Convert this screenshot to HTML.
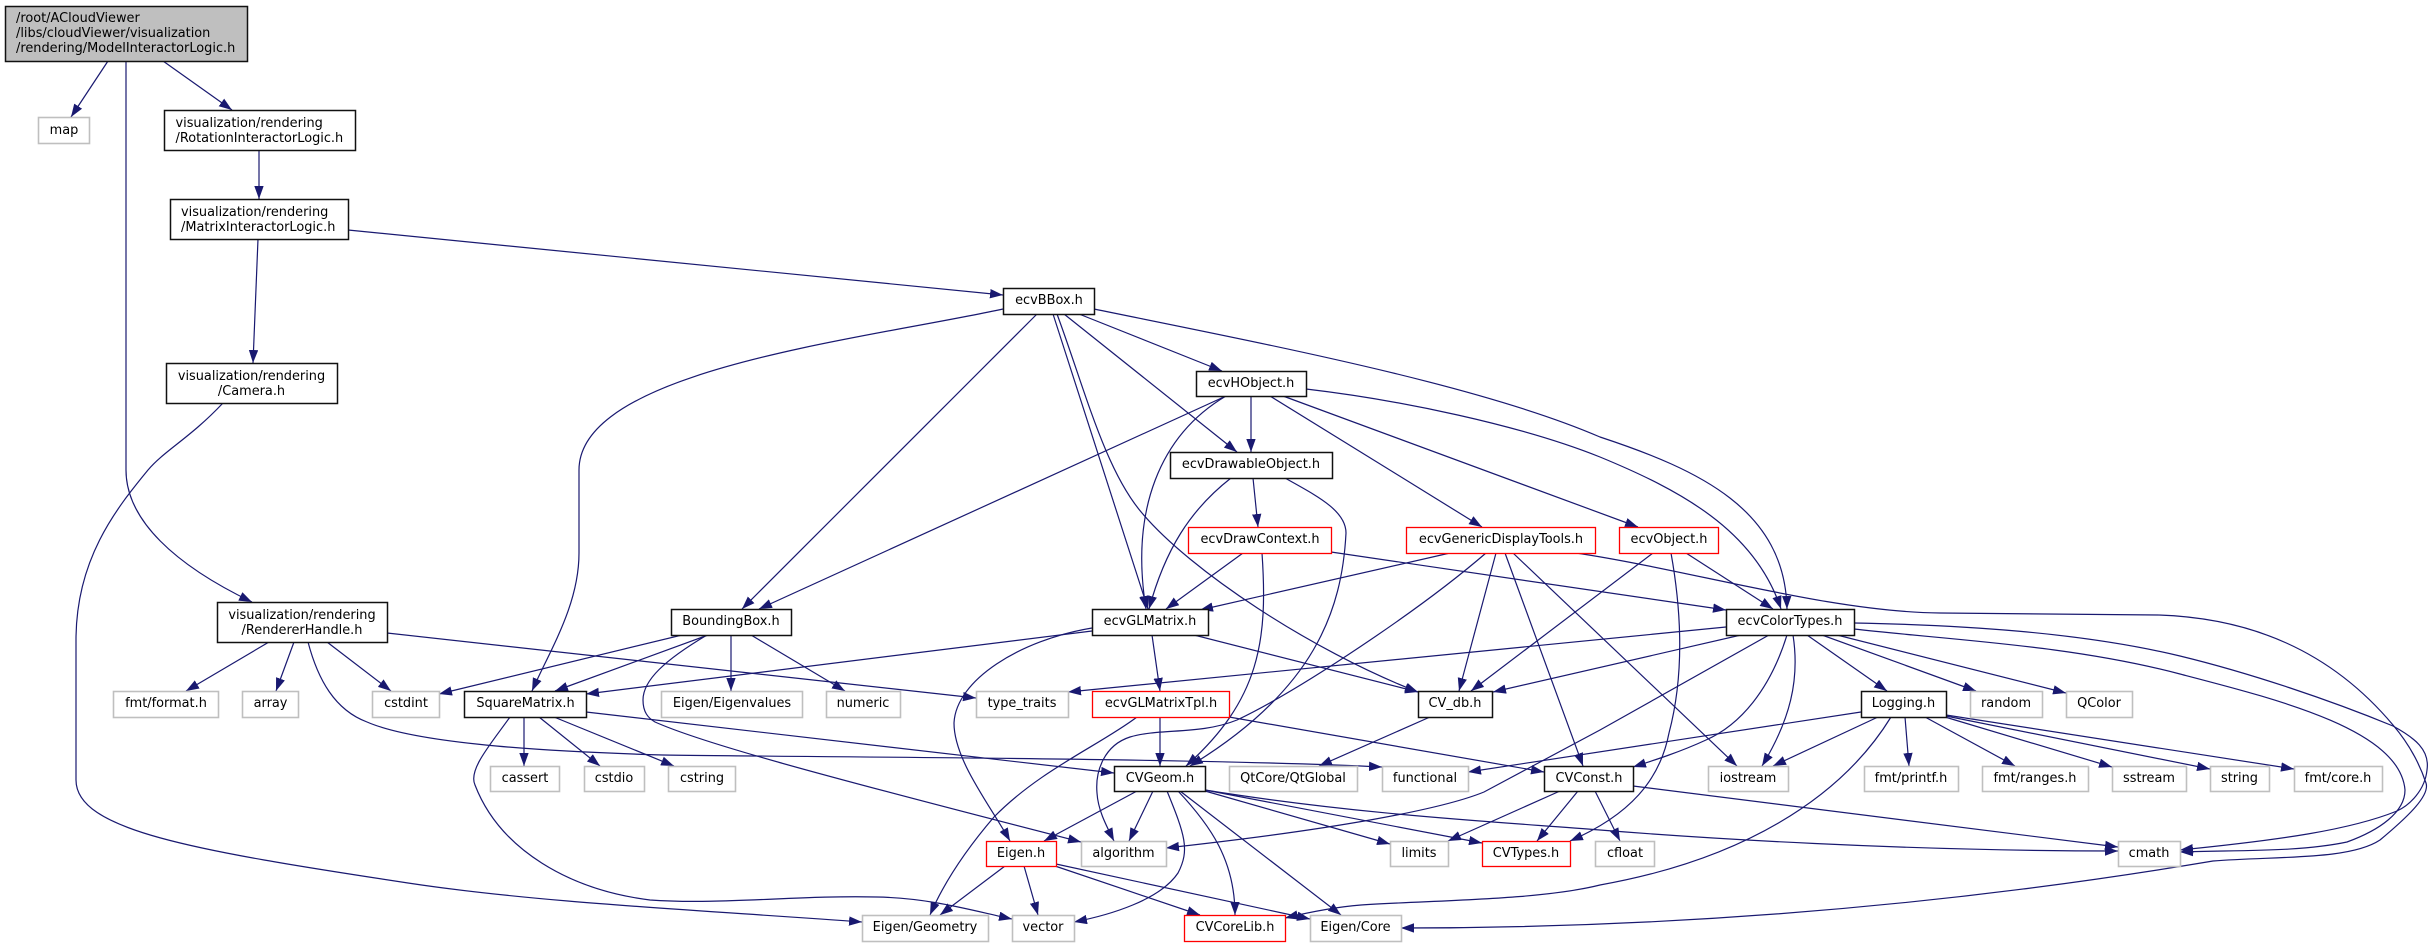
<!DOCTYPE html>
<html><head><meta charset="utf-8"><title>ModelInteractorLogic.h include graph</title>
<style>
html,body{margin:0;padding:0;background:#fff}
svg{display:block}
text{font-family:"DejaVu Sans",sans-serif;font-size:12.9px;fill:#000}
.m{text-anchor:middle}
.e path{fill:none;stroke:#191970;stroke-width:1.2;marker-end:url(#a)}
.n rect{fill:#fff;stroke:#111;stroke-width:1.5}
.n rect.g{stroke:#bfbfbf;stroke-width:1.6}
.n rect.r{stroke:#f00;stroke-width:1.3}
.n rect.t{fill:#bfbfbf}
</style></head><body>
<svg xmlns="http://www.w3.org/2000/svg" width="2434" height="947" viewBox="0 0 2434 947">
<defs><marker id="a" markerUnits="userSpaceOnUse" markerWidth="14" markerHeight="10" refX="13" refY="4.7" orient="auto"><path d="M0,0 L13,4.7 L0,9.4 Z" fill="#191970"/></marker></defs>
<g class="e">
<path d="M108,61 L71,117"/>
<path d="M163,61 L232,110"/>
<path d="M126,61 L126,470 C126,520 175,565 252,602"/>
<path d="M259,150 L259,199"/>
<path d="M348,230 L1003,295"/>
<path d="M258,239 L253,363"/>
<path d="M223,403 C190,438 165,450 148,470 C115,510 76,560 76,640 L76,780 C76,830 190,850 408,883 C540,903 700,910 862,922"/>
<path d="M1003,309 C860,340 579,370 579,470 L579,553 C579,605 550,650 532,691"/>
<path d="M1037,314 L742,609"/>
<path d="M1053,314 L1148,609"/>
<path d="M1057,314 C1085,390 1105,470 1142,513 C1190,570 1310,650 1418,692"/>
<path d="M1064,314 L1237,452"/>
<path d="M1079,314 L1222,371"/>
<path d="M1094,309 C1270,345 1480,385 1600,437 C1700,470 1785,510 1787,609"/>
<path d="M1226,396 L759,609"/>
<path d="M1226,396 C1160,435 1130,510 1146,609"/>
<path d="M1251,396 L1251,452"/>
<path d="M1270,396 L1482,527"/>
<path d="M1283,396 L1638,527"/>
<path d="M1306,389 C1400,400 1520,425 1600,457 C1680,490 1755,530 1781,609"/>
<path d="M1231,478 C1190,510 1165,550 1149,609"/>
<path d="M1253,478 L1258,527"/>
<path d="M1285,478 C1315,495 1346,510 1346,533 C1342,610 1315,690 1190,766"/>
<path d="M1243,553 L1166,609"/>
<path d="M1262,553 C1268,640 1260,700 1186,766"/>
<path d="M1331,552 L1726,610"/>
<path d="M1450,553 L1200,610"/>
<path d="M1496,553 L1459,691"/>
<path d="M1505,553 L1583,766"/>
<path d="M1513,553 L1737,766"/>
<path d="M1486,553 C1420,610 1300,690 1237,720 C1200,735 1160,728 1130,737 C1105,745 1095,770 1097,793 C1098,810 1106,825 1114,841"/>
<path d="M1576,553 C1690,570 1830,612 1940,613 L2158,615 C2250,618 2330,650 2393,725 C2410,745 2420,765 2426,783 C2430,795 2410,815 2380,840 C2350,860 2280,856 2213,861 C2100,880 1800,928 1401,928"/>
<path d="M1854,623 C1960,625 2080,632 2180,656 C2250,673 2330,700 2393,726 C2415,738 2430,750 2427,770 C2425,790 2410,805 2397,811 C2350,830 2280,840 2180,850"/>
<path d="M1854,629 C1950,640 2070,645 2180,674 C2280,700 2400,730 2405,790 C2405,812 2380,830 2347,842 C2300,852 2240,850 2180,852"/>
<path d="M1653,553 L1471,691"/>
<path d="M1686,553 L1773,609"/>
<path d="M1671,553 C1683,620 1683,680 1669,733 C1660,780 1630,815 1570,841"/>
<path d="M1726,627 L1068,692"/>
<path d="M1741,635 L1493,692"/>
<path d="M1787,635 C1770,690 1740,725 1706,740 C1680,752 1655,760 1633,767"/>
<path d="M1769,635 L1600,730 L1484,792 C1440,810 1330,830 1166,848"/>
<path d="M1793,635 C1800,680 1790,720 1762,766"/>
<path d="M1807,635 L1887,691"/>
<path d="M1822,635 L1976,691"/>
<path d="M1837,635 L2066,693"/>
<path d="M1861,712 L1468,772"/>
<path d="M1878,717 L1773,766"/>
<path d="M1891,717 C1840,800 1740,860 1600,885 C1540,900 1440,900 1361,905 C1335,907 1310,912 1285,918"/>
<path d="M1905,717 L1909,766"/>
<path d="M1925,717 L2015,766"/>
<path d="M1945,717 L2112,767"/>
<path d="M1946,716 L2210,769"/>
<path d="M1946,715 L2294,769"/>
<path d="M1092,631 L586,694"/>
<path d="M1092,628 C1020,640 956,680 954,723 C954,760 990,805 1010,841"/>
<path d="M1152,635 L1160,691"/>
<path d="M1194,635 L1418,692"/>
<path d="M1137,717 C1100,745 1040,770 994,817 C970,845 945,880 930,915"/>
<path d="M1160,717 L1160,766"/>
<path d="M1229,717 L1544,772"/>
<path d="M1430,717 L1319,766"/>
<path d="M1137,791 L1044,841"/>
<path d="M1153,791 L1129,841"/>
<path d="M1167,791 C1185,835 1190,850 1178,873 C1160,900 1110,915 1074,922"/>
<path d="M1178,791 C1210,825 1235,860 1235,915"/>
<path d="M1180,791 L1341,915"/>
<path d="M1205,791 L1390,844"/>
<path d="M1205,790 L1482,843"/>
<path d="M1205,790 C1360,815 1500,822 1600,830 C1700,838 1900,851 2118,851"/>
<path d="M1560,791 L1448,841"/>
<path d="M1578,791 L1537,841"/>
<path d="M1595,791 L1620,841"/>
<path d="M1633,786 L2118,847"/>
<path d="M1005,866 L940,915"/>
<path d="M1024,866 L1038,915"/>
<path d="M1055,866 L1200,915"/>
<path d="M1056,864 L1310,919"/>
<path d="M586,712 L1114,773"/>
<path d="M524,717 L524,766"/>
<path d="M539,717 L600,766"/>
<path d="M554,717 L674,766"/>
<path d="M510,717 C490,745 468,770 475,785 C500,850 570,890 650,900 C720,905 800,895 877,897 C930,898 970,910 1012,919"/>
<path d="M269,642 L186,691"/>
<path d="M294,642 L276,691"/>
<path d="M327,642 L391,691"/>
<path d="M308,642 C318,680 335,710 367,722 C420,745 560,752 663,755 C800,757 1200,758 1382,767"/>
<path d="M387,633 L976,698"/>
<path d="M682,635 L439,694"/>
<path d="M708,635 L555,691"/>
<path d="M707,635 C665,660 643,680 643,700 C643,712 648,718 655,722 C700,742 800,770 1081,842"/>
<path d="M731,635 L731,691"/>
<path d="M751,635 L845,691"/>
</g>
<g class="n">
<rect class="t" x="5.5" y="6.500" width="242" height="55"/>
<rect class="g" x="38.5" y="117.5" width="51" height="26"/>
<rect x="164.5" y="110.5" width="191" height="40"/>
<rect x="170.5" y="199.5" width="178" height="40"/>
<rect x="166.5" y="363.5" width="171" height="40"/>
<rect x="217.5" y="602.5" width="170" height="40"/>
<rect class="g" x="113.5" y="691.5" width="105" height="26"/>
<rect class="g" x="242.5" y="691.5" width="56" height="26"/>
<rect class="g" x="372.5" y="691.5" width="67" height="26"/>
<rect x="464.5" y="691.5" width="122" height="26"/>
<rect x="671.5" y="609.5" width="120" height="26"/>
<rect class="g" x="661.5" y="691.5" width="141" height="26"/>
<rect class="g" x="490.5" y="766.5" width="69" height="25"/>
<rect class="g" x="584.5" y="766.5" width="60" height="25"/>
<rect class="g" x="668.5" y="766.5" width="67" height="25"/>
<rect x="1003.5" y="288.5" width="91" height="26"/>
<rect x="1196.5" y="371.5" width="110" height="25"/>
<rect x="1170.5" y="452.5" width="162" height="26"/>
<rect class="r" x="1188.5" y="527.5" width="143" height="26"/>
<rect class="r" x="1406.5" y="527.5" width="189" height="26"/>
<rect x="1092.5" y="609.5" width="116" height="26"/>
<rect class="g" x="826.5" y="691.5" width="74" height="26"/>
<rect class="g" x="976.5" y="691.5" width="92" height="26"/>
<rect class="r" x="1092.5" y="691.5" width="137" height="26"/>
<rect x="1418.5" y="691.5" width="74" height="26"/>
<rect x="1114.5" y="766.5" width="91" height="25"/>
<rect class="g" x="1229.5" y="766.5" width="128" height="25"/>
<rect class="g" x="1382.5" y="766.5" width="86" height="25"/>
<rect x="1544.5" y="766.5" width="89" height="25"/>
<rect class="r" x="986.5" y="841.5" width="70" height="25"/>
<rect class="g" x="1081.5" y="841.5" width="85" height="25"/>
<rect class="g" x="1390.5" y="841.5" width="58" height="25"/>
<rect class="r" x="1482.5" y="841.5" width="88" height="25"/>
<rect class="g" x="1595.5" y="841.5" width="59" height="25"/>
<rect class="g" x="862.5" y="915.5" width="126" height="26"/>
<rect class="g" x="1012.5" y="915.5" width="62" height="26"/>
<rect class="r" x="1184.5" y="915.5" width="101" height="26"/>
<rect class="g" x="1310.5" y="915.5" width="91" height="26"/>
<rect class="r" x="1619.5" y="527.5" width="99" height="26"/>
<rect x="1726.5" y="609.5" width="128" height="26"/>
<rect x="1861.5" y="691.5" width="85" height="26"/>
<rect class="g" x="1970.5" y="691.5" width="72" height="26"/>
<rect class="g" x="2066.5" y="691.5" width="66" height="26"/>
<rect class="g" x="1708.5" y="766.5" width="80" height="25"/>
<rect class="g" x="1864.5" y="766.5" width="94" height="25"/>
<rect class="g" x="1982.5" y="766.5" width="106" height="25"/>
<rect class="g" x="2112.5" y="766.5" width="74" height="25"/>
<rect class="g" x="2210.5" y="766.5" width="59" height="25"/>
<rect class="g" x="2294.5" y="766.5" width="88" height="25"/>
<rect class="g" x="2118.5" y="841.5" width="62" height="25"/>
</g>
<g>
<text x="16" y="22">/root/ACloudViewer</text>
<text x="16" y="37">/libs/cloudViewer/visualization</text>
<text x="16" y="52">/rendering/ModelInteractorLogic.h</text>
<text class="m" x="64" y="134">map</text>
<text x="175.500" y="127">visualization/rendering</text>
<text x="175.500" y="142">/RotationInteractorLogic.h</text>
<text x="181" y="216">visualization/rendering</text>
<text x="181" y="231">/MatrixInteractorLogic.h</text>
<text class="m" x="251.5" y="380">visualization/rendering</text>
<text class="m" x="251.5" y="395">/Camera.h</text>
<text class="m" x="302" y="619">visualization/rendering</text>
<text class="m" x="302" y="634">/RendererHandle.h</text>
<text class="m" x="166" y="707">fmt/format.h</text>
<text class="m" x="270.5" y="707">array</text>
<text class="m" x="406" y="707">cstdint</text>
<text class="m" x="525.5" y="707">SquareMatrix.h</text>
<text class="m" x="731" y="625">BoundingBox.h</text>
<text class="m" x="732" y="707">Eigen/Eigenvalues</text>
<text class="m" x="525" y="782">cassert</text>
<text class="m" x="614" y="782">cstdio</text>
<text class="m" x="702" y="782">cstring</text>
<text class="m" x="1049" y="304">ecvBBox.h</text>
<text class="m" x="1251" y="387">ecvHObject.h</text>
<text class="m" x="1251" y="468">ecvDrawableObject.h</text>
<text class="m" x="1260" y="543">ecvDrawContext.h</text>
<text class="m" x="1501" y="543">ecvGenericDisplayTools.h</text>
<text class="m" x="1150" y="625">ecvGLMatrix.h</text>
<text class="m" x="863" y="707">numeric</text>
<text class="m" x="1022" y="707">type_traits</text>
<text class="m" x="1161" y="707">ecvGLMatrixTpl.h</text>
<text class="m" x="1455" y="707">CV_db.h</text>
<text class="m" x="1160" y="782">CVGeom.h</text>
<text class="m" x="1293" y="782">QtCore/QtGlobal</text>
<text class="m" x="1425" y="782">functional</text>
<text class="m" x="1589" y="782">CVConst.h</text>
<text class="m" x="1021" y="857">Eigen.h</text>
<text class="m" x="1123.500" y="857">algorithm</text>
<text class="m" x="1419" y="857">limits</text>
<text class="m" x="1526" y="857">CVTypes.h</text>
<text class="m" x="1625" y="857">cfloat</text>
<text class="m" x="925" y="931">Eigen/Geometry</text>
<text class="m" x="1043" y="931">vector</text>
<text class="m" x="1235" y="931">CVCoreLib.h</text>
<text class="m" x="1355.500" y="931">Eigen/Core</text>
<text class="m" x="1669" y="543">ecvObject.h</text>
<text class="m" x="1790" y="625">ecvColorTypes.h</text>
<text class="m" x="1903.500" y="707">Logging.h</text>
<text class="m" x="2006" y="707">random</text>
<text class="m" x="2099" y="707">QColor</text>
<text class="m" x="1748" y="782">iostream</text>
<text class="m" x="1911" y="782">fmt/printf.h</text>
<text class="m" x="2035" y="782">fmt/ranges.h</text>
<text class="m" x="2149" y="782">sstream</text>
<text class="m" x="2239.500" y="782">string</text>
<text class="m" x="2338" y="782">fmt/core.h</text>
<text class="m" x="2149" y="857">cmath</text>
</g>
</svg>
</body></html>
